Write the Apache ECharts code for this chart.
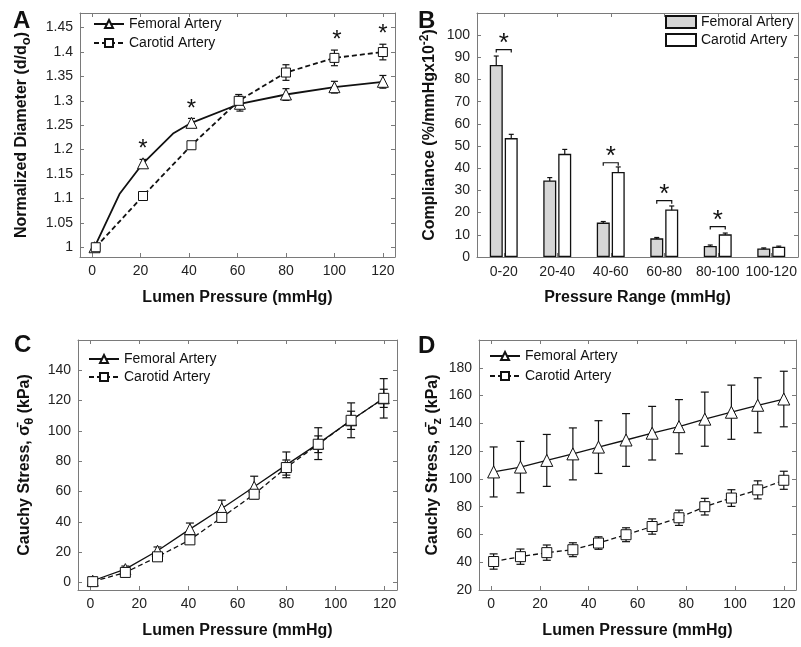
<!DOCTYPE html>
<html>
<head>
<meta charset="utf-8">
<script src="https://cdn.jsdelivr.net/npm/echarts@6/dist/echarts.min.js"></script>
<style>
  html, body { margin: 0; padding: 0; background: #fff; }
  #chart { width: 801px; height: 647px; }
</style>
</head>
<body>
<div id="chart"></div>
<script>
// ---- panel A : normalized diameter vs lumen pressure
const femA_x = [1, 11.3, 21, 33.4, 41, 61, 80, 100, 120];
const femA_y = [1.0, 1.109, 1.172, 1.233, 1.255, 1.294, 1.313, 1.328, 1.339];
const femA_sd = [0, null, 0.008, null, 0.009, 0.015, 0.012, 0.012, 0.013]; // null = no marker
const carA_x = [1.5, 21, 41, 60.5, 80, 100, 120];
const carA_y = [1.0, 1.105, 1.209, 1.300, 1.358, 1.388, 1.400];
const carA_sd = [0, 0.005, 0.005, 0.013, 0.016, 0.016, 0.016];
const starA_x = [21, 41, 101, 120];
const starA_y = [1.212, 1.295, 1.437, 1.448];
const ticksA_x = [0, 20, 40, 60, 80, 100, 120];
const ticksA_y = [1, 1.05, 1.1, 1.15, 1.2, 1.25, 1.3, 1.35, 1.4, 1.45];

// ---- panel B : compliance per pressure range
const rangesB = ['0-20', '20-40', '40-60', '60-80', '80-100', '100-120'];
const femB = [86.6, 34.5, 15.5, 8.4, 5.0, 3.8];
const femB_sd = [4.0, 1.3, 0.5, 0.4, 0.4, 0.3];
const carB = [53.6, 46.5, 38.3, 21.4, 10.2, 4.6];
const carB_sd = [1.7, 2.0, 2.3, 1.6, 0.6, 0.3];
const sigB = [0, 2, 3, 4];
const sigB_y = [93.5, 42.5, 25.4, 13.7];
const ticksB_y = [0, 10, 20, 30, 40, 50, 60, 70, 80, 90, 100];

// ---- panel C : circumferential stress
const pressC = [1, 14.3, 27.4, 40.6, 53.6, 66.8, 79.9, 92.9, 106.3, 119.6];
const femC = [1.1, 8.8, 20.9, 35.2, 48.8, 63.1, 77.6, 91.6, 107, 121.5];
const femC_sd = [1, 2, 2.5, 4, 5.5, 7, 8.5, 10.5, 11.5, 13];
const carC = [0.5, 6.6, 16.9, 28.1, 42.9, 58.2, 75.8, 91.2, 107, 121.5];
const carC_sd = [0.8, 1.2, 1.5, 2, 2.5, 3, 5, 5.5, 6, 6];
const ticksC_y = [0, 20, 40, 60, 80, 100, 120, 140];

// ---- panel D : axial stress
const pressD = [1, 12, 22.8, 33.5, 44, 55.3, 66, 77, 87.6, 98.5, 109.3, 120];
const femD = [105, 108.5, 113.3, 118, 122.9, 128, 132.9, 137.6, 143, 148, 153, 157.5];
const femD_sd = [18, 18.5, 18.7, 18.7, 19, 19, 19.3, 19.5, 19.5, 19.5, 19.8, 20];
const carD = [40.5, 44, 46.9, 49, 53.8, 59.8, 65.7, 72, 80, 86.2, 92.1, 99];
const carD_sd = [5.5, 5.5, 5.5, 5, 4.5, 5, 5.5, 5.5, 6, 6, 6.5, 6.5];
const ticksD_y = [20, 40, 60, 80, 100, 120, 140, 160, 180];

const FONT = 'Liberation Sans, Arial, sans-serif';
const INK = '#111';
const BOX = '#7a7a7a';

const chart = echarts.init(document.getElementById('chart'));

function valueAxis(g, pos, min, max, ticks, extra) {
  const main = pos === 'bottom' || pos === 'left';
  return Object.assign({
    type: 'value', gridIndex: g, position: pos, min: min, max: max,
    axisLine: { show: true, onZero: false, lineStyle: { color: BOX, width: 1 } },
    axisTick: { show: true, inside: true, length: 4, customValues: ticks, lineStyle: { color: BOX } },
    axisLabel: { show: main, customValues: ticks, color: '#222', fontSize: 14, fontFamily: FONT, margin: 7 },
    splitLine: { show: false }
  }, extra || {});
}

function catAxis(g, pos, extra) {
  return Object.assign({
    type: 'category', gridIndex: g, position: pos, data: rangesB, boundaryGap: true,
    axisLine: { show: true, onZero: false, lineStyle: { color: BOX, width: 1 } },
    axisTick: { show: true, inside: true, length: 4, alignWithLabel: true, lineStyle: { color: BOX } },
    axisLabel: { show: pos === 'bottom', color: '#222', fontSize: 14, fontFamily: FONT, margin: 8, interval: 0 },
    splitLine: { show: false }
  }, extra || {});
}

const xName = {
  name: 'Lumen Pressure (mmHg)', nameLocation: 'middle', nameGap: 33,
  nameTextStyle: { fontSize: 16, fontWeight: 'bold', color: INK, fontFamily: FONT }
};
function yName(text, gap) {
  return {
    name: text, nameLocation: 'middle', nameGap: gap,
    nameTextStyle: {
      fontFamily: FONT,
      rich: {
        t: { fontSize: 16, fontWeight: 'bold', color: INK, fontFamily: FONT },
        s: { fontSize: 13, fontWeight: 'bold', color: INK, fontFamily: FONT, padding: [9, 0, 0, 0] },
        p: { fontSize: 12, fontWeight: 'bold', color: INK, fontFamily: FONT, padding: [0, 0, 9, 0] }
      }
    }
  };
}

// vertical error bar with caps
function errBar(cap, dx) {
  return function (params, api) {
    const p1 = api.coord([api.value(0), api.value(1)]);
    const p2 = api.coord([api.value(0), api.value(2)]);
    const x = p1[0] + (dx || 0);
    const st = { stroke: INK, lineWidth: 1.2 };
    return {
      type: 'group', children: [
        { type: 'line', shape: { x1: x, y1: p1[1], x2: x, y2: p2[1] }, style: st },
        { type: 'line', shape: { x1: x - cap, y1: p1[1], x2: x + cap, y2: p1[1] }, style: st },
        { type: 'line', shape: { x1: x - cap, y1: p2[1], x2: x + cap, y2: p2[1] }, style: st }
      ]
    };
  };
}
function errSeries(g, xs, ys, sds, cap, dx) {
  const data = [];
  xs.forEach(function (x, i) {
    if (sds[i]) data.push([x, ys[i] - sds[i], ys[i] + sds[i]]);
  });
  return {
    type: 'custom', xAxisIndex: 2 * g, yAxisIndex: 2 * g, z: 2, silent: true,
    renderItem: errBar(cap, dx), encode: { x: 0, y: [1, 2] }, data: data
  };
}
function lineSeries(g, name, xs, ys, marks, dashed, sym, size, width) {
  return {
    type: 'line', name: name, xAxisIndex: 2 * g, yAxisIndex: 2 * g, z: 3,
    data: xs.map(function (x, i) {
      return { value: [x, ys[i]], symbol: marks && marks[i] === null ? 'none' : sym };
    }),
    symbol: sym, symbolSize: size,
    lineStyle: { color: INK, width: width, type: dashed ? [5, 3] : 'solid' },
    itemStyle: { color: '#fff', borderColor: INK, borderWidth: 1 },
    animation: false
  };
}

const series = [
  // A
  errSeries(0, femA_x, femA_y, femA_sd, 3.5),
  errSeries(0, carA_x, carA_y, carA_sd, 3.5),
  lineSeries(0, 'Femoral Artery', femA_x, femA_y, femA_sd, false, 'triangle', 11, 1.8),
  lineSeries(0, 'Carotid Artery', carA_x, carA_y, null, true, 'rect', 9, 1.8),
  {
    type: 'custom', xAxisIndex: 0, yAxisIndex: 0, z: 4, silent: true,
    data: starA_x.map(function (x, i) { return [x, starA_y[i]]; }),
    renderItem: function (params, api) {
      const p = api.coord([api.value(0), api.value(1)]);
      return { type: 'text', x: p[0], y: p[1] + 6, style: { text: '*', font: '24px ' + FONT, fill: INK, align: 'center', verticalAlign: 'middle' } };
    }
  },
  // B
  {
    type: 'bar', name: 'femBars', xAxisIndex: 2, yAxisIndex: 2, data: femB,
    barWidth: 13, barGap: '15%',
    itemStyle: { color: '#d6d6d6', borderColor: INK, borderWidth: 1.3 }
  },
  {
    type: 'bar', name: 'carBars', xAxisIndex: 2, yAxisIndex: 2, data: carB,
    barWidth: 13, barGap: '15%',
    itemStyle: { color: '#fff', borderColor: INK, borderWidth: 1.3 }
  },
  errSeries(1, rangesB.map(function (c, i) { return i; }), femB, femB_sd, 2.5, -7.5),
  errSeries(1, rangesB.map(function (c, i) { return i; }), carB, carB_sd, 2.5, 7.5),
  {
    type: 'custom', xAxisIndex: 2, yAxisIndex: 2, z: 4, silent: true,
    data: sigB.map(function (c, k) { return [c, sigB_y[k]]; }),
    encode: { x: 0, y: 1 },
    renderItem: function (params, api) {
      const p = api.coord([api.value(0), api.value(1)]);
      const x1 = p[0] - 7.5, x2 = p[0] + 7.5, y = p[1];
      return {
        type: 'group', children: [
          { type: 'polyline', shape: { points: [[x1, y + 3], [x1, y], [x2, y], [x2, y + 3]] }, style: { stroke: INK, lineWidth: 1.2, fill: null } },
          { type: 'text', x: p[0], y: y - 6, style: { text: '*', font: '26px ' + FONT, fill: INK, align: 'center', verticalAlign: 'middle' } }
        ]
      };
    }
  },
  // C
  errSeries(2, pressC, femC, femC_sd, 4),
  errSeries(2, pressC, carC, carC_sd, 4),
  lineSeries(2, 'Femoral Artery', pressC, femC, null, false, 'triangle', 11, 1.3),
  lineSeries(2, 'Carotid Artery', pressC, carC, null, true, 'rect', 10, 1.3),
  // D
  errSeries(3, pressD, femD, femD_sd, 4),
  errSeries(3, pressD, carD, carD_sd, 4),
  lineSeries(3, 'Femoral Artery', pressD, femD, null, false, 'triangle', 12, 1.3),
  lineSeries(3, 'Carotid Artery', pressD, carD, null, true, 'rect', 10, 1.3)
];

function lineLegend(left, top, gap) {
  return {
    orient: 'vertical', left: left, top: top, itemWidth: 30, itemHeight: 10, itemGap: gap,
    selectedMode: false, data: ['Femoral Artery', 'Carotid Artery'],
    textStyle: { fontSize: 14, color: INK, fontFamily: FONT }
  };
}

chart.setOption({
  animation: false,
  textStyle: { fontFamily: FONT },
  grid: [
    { left: 80, top: 13, width: 315, height: 244 },
    { left: 477, top: 13, width: 321, height: 244 },
    { left: 78, top: 340, width: 319, height: 250 },
    { left: 479, top: 340, width: 317, height: 250 }
  ],
  xAxis: [
    valueAxis(0, 'bottom', -5, 125, ticksA_x, xName),
    valueAxis(0, 'top', -5, 125, ticksA_x),
    catAxis(1, 'bottom', { name: 'Pressure Range (mmHg)', nameLocation: 'middle', nameGap: 33, nameTextStyle: xName.nameTextStyle }),
    catAxis(1, 'top'),
    valueAxis(2, 'bottom', -5, 125, ticksA_x, xName),
    valueAxis(2, 'top', -5, 125, ticksA_x),
    valueAxis(3, 'bottom', -5, 125, ticksA_x, xName),
    valueAxis(3, 'top', -5, 125, ticksA_x)
  ],
  yAxis: [
    valueAxis(0, 'left', 0.98, 1.48, ticksA_y, yName('{t|Normalized Diameter (d/d}{s|o}{t|)}', 47)),
    valueAxis(0, 'right', 0.98, 1.48, ticksA_y),
    valueAxis(1, 'left', 0, 110, ticksB_y, yName('{t|Compliance (%/mmHgx10}{p|-2}{t|)}', 37)),
    valueAxis(1, 'right', 0, 110, ticksB_y),
    valueAxis(2, 'left', -5, 160, ticksC_y, yName('{t|Cauchy Stress, σ\u0304}{s|θ}{t| (kPa)}', 42)),
    valueAxis(2, 'right', -5, 160, ticksC_y),
    valueAxis(3, 'left', 20, 200, ticksD_y, yName('{t|Cauchy Stress, σ\u0304}{s|z}{t| (kPa)}', 35)),
    valueAxis(3, 'right', 20, 200, ticksD_y)
  ],
  legend: [
    lineLegend(88, 12, 5),
    {
      orient: 'vertical', left: 660, top: 10, itemWidth: 30, itemHeight: 12, itemGap: 4,
      selectedMode: false, icon: 'rect', data: ['femBars', 'carBars'],
      formatter: function (n) { return n === 'femBars' ? 'Femoral Artery' : 'Carotid Artery'; },
      textStyle: { fontSize: 14, color: INK, fontFamily: FONT }
    },
    lineLegend(83, 347, 4),
    lineLegend(484, 344, 6)
  ],
  graphic: [
    { type: 'text', left: 13, top: 9, style: { text: 'A', font: 'bold 24px ' + FONT, fill: INK } },
    { type: 'text', left: 418, top: 9, style: { text: 'B', font: 'bold 24px ' + FONT, fill: INK } },
    { type: 'text', left: 14, top: 333, style: { text: 'C', font: 'bold 24px ' + FONT, fill: INK } },
    { type: 'text', left: 418, top: 334, style: { text: 'D', font: 'bold 24px ' + FONT, fill: INK } }
  ],
  series: series
});
</script>
</body>
</html>
